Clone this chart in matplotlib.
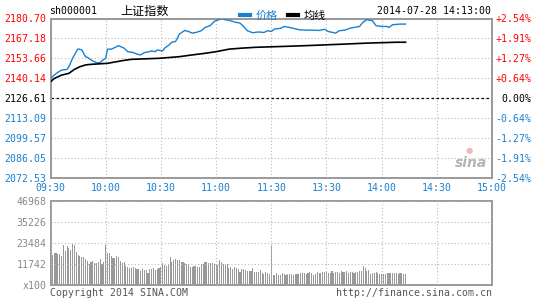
import matplotlib
matplotlib.use("Agg")
import matplotlib.pyplot as plt
import numpy as np

# ---------------- data ----------------
time_labels = ["09:30", "10:00", "10:30", "11:00", "11:30", "13:30", "14:00", "14:30", "15:00"]
time_ticks = [0, 30, 60, 90, 120, 150, 180, 210, 240]

price_ticks = [2180.70, 2167.18, 2153.66, 2140.14, 2126.61, 2113.09, 2099.57, 2086.05, 2072.53]
pct_labels = ["+2.54%", "+1.91%", "+1.27%", "+0.64%", "0.00%", "-0.64%", "-1.27%", "-1.91%", "-2.54%"]
prev_close = 2126.61

price_min = [0, 2, 4, 6, 9, 10, 12, 14, 15, 17, 19, 20, 22, 25, 27, 28, 30, 31, 33, 35, 37, 38, 40,
             42, 45, 47, 49, 51, 53, 55, 57, 58, 61, 62, 64, 66, 68, 69, 70, 73, 75, 77, 79, 82, 84,
             87, 89, 91, 93, 95, 98, 100, 103, 105, 107, 110, 113, 116, 118, 120, 122, 125, 127, 130,
             133, 135, 139, 143, 146, 149, 151, 155, 157, 160, 163, 168, 170, 172, 175, 177, 180, 183,
             184, 186, 190, 193]
price_val = [2140.1, 2142.3, 2144.2, 2145.7, 2146.2, 2148.0, 2153.7, 2158.2, 2160.1, 2159.4, 2154.8,
             2154.4, 2152.6, 2150.7, 2150.7, 2152.1, 2153.7, 2159.9, 2159.9, 2161.0, 2162.3, 2161.7,
             2160.6, 2158.2, 2157.6, 2156.5, 2156.0, 2157.6, 2158.0, 2158.7, 2158.2, 2159.4, 2158.7,
             2160.6, 2162.3, 2164.6, 2165.1, 2167.4, 2170.1, 2172.6, 2171.9, 2170.8, 2171.2, 2172.4,
             2174.6, 2176.0, 2178.7, 2179.7, 2180.6, 2179.9, 2179.2, 2178.3, 2177.6, 2175.3, 2172.4,
             2171.0, 2171.6, 2171.2, 2172.4, 2171.9, 2173.7, 2174.0, 2175.3, 2174.6, 2173.7, 2173.1,
             2172.8, 2172.8, 2172.6, 2173.4, 2171.9, 2170.8, 2172.4, 2172.8, 2174.2, 2175.3, 2178.3,
             2179.9, 2179.2, 2175.8, 2175.3, 2175.3, 2174.6, 2176.5, 2176.9, 2176.9]

avg_min = [0, 2, 6, 10, 13, 16, 19, 22, 31, 35, 39, 44, 59, 70, 77, 84, 90, 97, 104, 112, 125, 139,
           159, 172, 188, 193]
avg_val = [2137.7, 2140.0, 2142.3, 2143.5, 2146.2, 2148.0, 2149.2, 2149.6, 2150.3, 2151.2, 2152.1,
           2153.0, 2153.7, 2154.8, 2156.0, 2157.1, 2158.2, 2159.9, 2160.6, 2161.2, 2161.7, 2162.3,
           2163.3, 2164.0, 2164.6, 2164.6]

vol_ticks = [0, 11742, 23484, 35226, 46968]
vol_tick_labels = ["x100", "11742", "23484", "35226", "46968"]

vol_am1 = [18300, 16800, 17700, 17700, 17300, 17100, 16200, 22400, 19000, 21800,
           20500, 19600, 22900, 22400, 18300, 16800, 16200, 15500, 15500, 14600,
           13400, 11900, 12700, 13400, 12500, 12300, 13000, 14500, 12000, 13000]
vol_am2 = [22400, 17700, 17700, 16200, 15300, 15300, 16200, 15500, 13400, 12100,
           12700, 10800, 10300, 9700, 9700, 9900, 9300, 8900, 8900, 7800,
           8800, 8400, 8600, 6900, 8900, 8800, 9700, 8400, 8800, 9500,
           10300, 12100, 11200, 10600, 11200, 15800, 12700, 14000, 14500, 14000,
           14000, 13000, 13000, 12400, 11700, 11600, 9900, 10300, 10600, 10600,
           9900, 10300, 11700, 11600, 12700, 13000, 12500, 12100, 12100, 11700,
           11600, 11200, 14000, 13000, 11600]
vol_am3 = [11500, 11500, 9700, 10200, 8700, 9900, 9500, 8700, 7500, 8900,
           8700, 8200, 7800, 7800, 7800, 9700, 7500, 7100, 7500, 8400,
           6900, 6100, 7000, 6500, 6000, 22000]
vol_pm = [5800, 5400, 6500, 5400, 5600, 6500, 6200, 5600, 6000, 6200,
          6200, 5600, 6000, 6200, 6200, 6500, 6500, 6500, 6000, 6500,
          7500, 6900, 5600, 6200, 7500, 6900, 6500, 7100, 7500, 7500,
          6500, 6900, 7800, 6900, 7500, 7500, 6900, 7800, 7500, 7300,
          7800, 6900, 7100, 7500, 6800, 7200, 7000, 7600, 7800, 10600,
          9700, 7800, 8400, 6200, 6500, 6900, 7500, 6500, 6200, 6000,
          6200, 6200, 6500, 6500, 6500, 6500, 6500, 6500, 6200, 6500,
          6500, 6400, 6300]
volume = vol_am1 + vol_am2 + vol_am3 + vol_pm
vol_min = list(range(len(volume)))

# ---------------- style ----------------
RED = "#ff0000"
BLUE = "#1a80d0"
GRAY = "#999999"
MONO = "DejaVu Sans Mono"
CJK = ["Noto Sans CJK SC", "DejaVu Sans"]
FS = 7.1

W, H = 545, 300
fig = plt.figure(figsize=(W / 100, H / 100), dpi=100)
fig.patch.set_facecolor("white")


def rect(l, t, r, b):
    return [l / W, 1 - b / H, (r - l) / W, (b - t) / H]


ax = fig.add_axes(rect(50.5, 18.5, 492, 178))
axv = fig.add_axes(rect(50.5, 201, 492, 285))

for a in (ax, axv):
    for s in a.spines.values():
        s.set_color(GRAY)
        s.set_linewidth(1.4)
    a.set_xlim(0, 240)
    a.set_xticks(time_ticks)
    a.grid(True, color="#b8b8b8", linestyle=(0, (1, 2)), linewidth=0.8)
    a.tick_params(length=0)

# ---- main price panel ----
ax.set_ylim(price_ticks[-1], price_ticks[0])
ax.set_yticks(price_ticks)
ax.set_yticklabels([f"{v:.2f}" for v in price_ticks], fontfamily=MONO, fontsize=FS)
for v, lab in zip(price_ticks, ax.get_yticklabels()):
    lab.set_color(RED if v > prev_close + 0.01 else ("black" if abs(v - prev_close) < 0.01 else BLUE))
ax.tick_params(axis="y", pad=3)
ax.set_xticklabels(time_labels, fontfamily=MONO, fontsize=FS, color=BLUE)
ax.tick_params(axis="x", pad=3.5)
ax.axhline(prev_close, color="black", linestyle=(0, (2, 2)), linewidth=0.9, zorder=2)

ax2 = ax.twinx()
ax2.set_ylim(ax.get_ylim())
ax2.set_yticks(price_ticks)
ax2.set_yticklabels(pct_labels, fontfamily=MONO, fontsize=FS)
for lab, txt in zip(ax2.get_yticklabels(), pct_labels):
    lab.set_ha("right")
    lab.set_color(RED if txt.startswith("+") else (BLUE if txt.startswith("-") else "black"))
ax2.tick_params(length=0, pad=28.5)
for s in ax2.spines.values():
    s.set_visible(False)

l1, = ax.plot(price_min, price_val, color=BLUE, linewidth=1.0, zorder=4, label="价格")
l2, = ax.plot(avg_min, avg_val, color="black", linewidth=1.2, zorder=4, label="均线")

leg = ax.legend(handles=[l1, l2], loc="lower left", bbox_to_anchor=(190 / 441.5, 0.985),
                ncol=2, frameon=False, handlelength=0.9, handletextpad=0.5,
                columnspacing=0.9, borderaxespad=0, borderpad=0,
                prop={"family": CJK, "size": 8})
for h in leg.legend_handles:
    h.set_linewidth(3)
leg.get_texts()[0].set_color(BLUE)
leg.get_texts()[1].set_color("black")

fig.text(49 / W, 1 - 11.5 / H, "sh000001", fontfamily=MONO, fontsize=FS, va="center", ha="left")
fig.text(120 / W, 1 - 11 / H, "上证指数", fontfamily=CJK, fontsize=8.7, va="center", ha="left")
fig.text(491 / W, 1 - 11.5 / H, "2014-07-28 14:13:00", fontfamily=MONO, fontsize=FS,
         va="center", ha="right")

# sina watermark
ax.text(0.953, 0.095, "sina", transform=ax.transAxes, fontsize=10, fontstyle="italic",
        fontweight="bold", color="#b4b4b4", ha="center", va="center", zorder=1)
ax.text(0.948, 0.175, "●", transform=ax.transAxes, fontsize=6, color="#f4b8b8",
        ha="center", va="center", zorder=1)

# ---- volume panel ----
axv.bar(vol_min, volume, width=0.6, color=GRAY, linewidth=0, zorder=1, antialiased=False)
axv.set_axisbelow(False)
axv.set_ylim(0, vol_ticks[-1])
axv.set_yticks(vol_ticks)
axv.set_yticklabels(vol_tick_labels, fontfamily=MONO, fontsize=FS, color="#888888")
axv.tick_params(axis="y", pad=3)
axv.set_xticklabels([])

fig.text(50 / W, 1 - 292.5 / H, "Copyright 2014 SINA.COM", fontfamily=MONO, fontsize=FS,
         color="#555555", va="center", ha="left")
fig.text(492 / W, 1 - 292.5 / H, "http://finance.sina.com.cn", fontfamily=MONO, fontsize=FS,
         color="#555555", va="center", ha="right")

fig.savefig("out.png", dpi=100, facecolor="white")
